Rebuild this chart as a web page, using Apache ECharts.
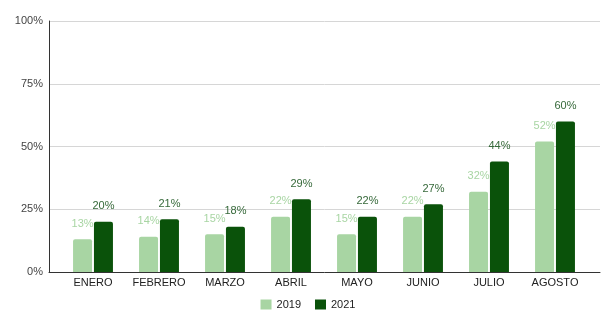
<!DOCTYPE html>
<html>
<head>
<meta charset="utf-8">
<script src="https://cdn.jsdelivr.net/npm/echarts@6/dist/echarts.min.js"></script>
<style>
  html, body { margin: 0; padding: 0; background: #fff; }
  #chart { width: 616px; height: 326px; }
</style>
</head>
<body>
<div id="chart"></div>
<script>
// Monthly shares, 2019 vs 2021
const months = ['ENERO', 'FEBRERO', 'MARZO', 'ABRIL', 'MAYO', 'JUNIO', 'JULIO', 'AGOSTO'];
const values2019 = [13, 14, 15, 22, 15, 22, 32, 52];
const values2021 = [20, 21, 18, 29, 22, 27, 44, 60];
const yTicks = [0, 25, 50, 75, 100];

const FONT = '"Liberation Sans", Arial, sans-serif';
const LIGHT = '#a8d5a3';
const DARK = '#0a520a';

const chart = echarts.init(document.getElementById('chart'));

chart.setOption({
  animation: false,
  textStyle: { fontFamily: FONT },
  grid: [
    // frame: y labels, gridlines and baseline
    { left: 49, right: 16, top: 21, bottom: 54 },
    // bars
    { left: 60, right: 28, top: 21, bottom: 54 }
  ],
  legend: {
    top: 294,
    left: 'center',
    itemWidth: 11,
    itemHeight: 10,
    itemGap: 14,
    icon: 'rect',
    textStyle: { fontFamily: FONT, fontSize: 11, color: '#222' },
    data: ['2019', '2021']
  },
  xAxis: [
    {
      gridIndex: 0, type: 'value', min: 0, max: 1,
      axisLine: { show: true, onZero: false, lineStyle: { color: '#333', width: 1 } },
      axisTick: { show: false }, axisLabel: { show: false }, splitLine: { show: false }
    },
    {
      gridIndex: 1, type: 'category', data: months,
      axisLine: { show: false }, axisTick: { show: false },
      axisLabel: { interval: 0, margin: 5, fontSize: 11, color: '#222', fontFamily: FONT }
    }
  ],
  yAxis: [
    {
      gridIndex: 0, type: 'value',
      min: yTicks[0], max: yTicks[yTicks.length - 1], interval: 25,
      axisLine: { show: true, lineStyle: { color: '#333', width: 1 } },
      axisTick: { show: false },
      axisLabel: { margin: 6, fontSize: 11, color: '#444', fontFamily: FONT, formatter: '{value}%' },
      splitLine: { show: true, lineStyle: { color: '#d6d6d6', width: 1 } }
    },
    {
      gridIndex: 1, type: 'value',
      min: yTicks[0], max: yTicks[yTicks.length - 1],
      show: false, splitLine: { show: false }
    }
  ],
  series: [
    {
      name: '2019', type: 'bar', xAxisIndex: 1, yAxisIndex: 1,
      data: values2019, barWidth: 19, barGap: '10%',
      itemStyle: { color: LIGHT, borderRadius: [2, 2, 0, 0] },
      label: {
        show: true, position: 'top', distance: 10, formatter: '{c}%',
        fontSize: 11, color: LIGHT, fontFamily: FONT
      }
    },
    {
      name: '2021', type: 'bar', xAxisIndex: 1, yAxisIndex: 1,
      data: values2021, barWidth: 19, barGap: '10%',
      itemStyle: { color: DARK, borderRadius: [2, 2, 0, 0] },
      label: {
        show: true, position: 'top', distance: 10, formatter: '{c}%',
        fontSize: 11, color: '#36693a', fontFamily: FONT
      }
    }
  ]
});
</script>
</body>
</html>
